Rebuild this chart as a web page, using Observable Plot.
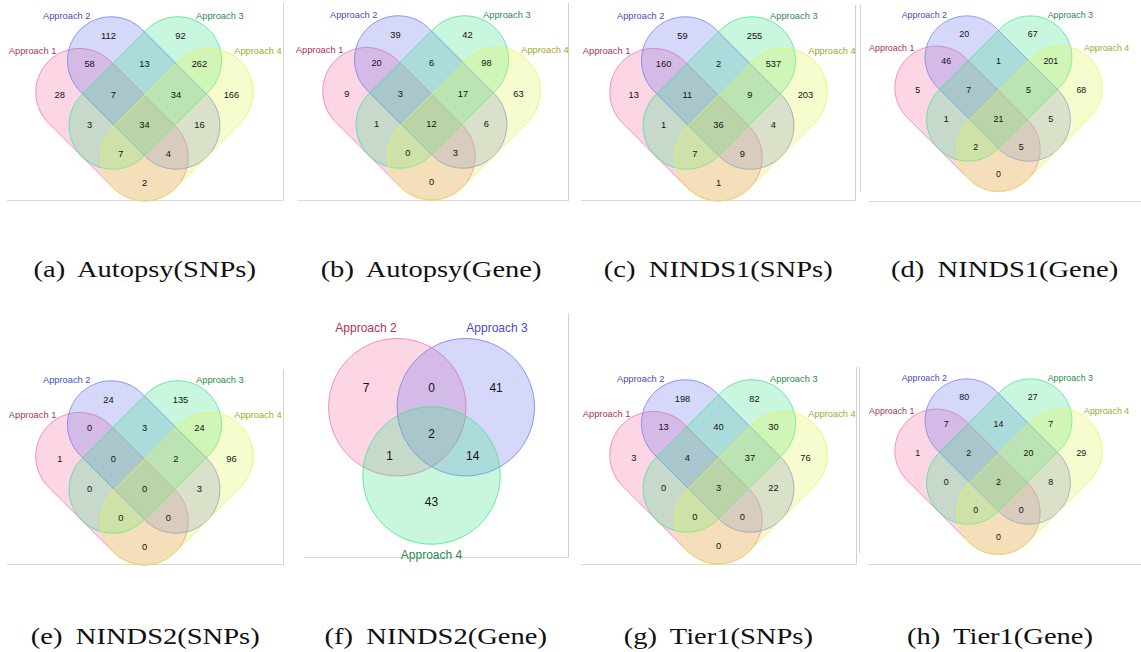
<!DOCTYPE html>
<html><head><meta charset="utf-8">
<script src="https://cdn.jsdelivr.net/npm/d3@7"></script>
<script src="https://cdn.jsdelivr.net/npm/@observablehq/plot@0.6"></script>
<style>
html,body{margin:0;padding:0;background:#fff;}
#fig{position:relative;width:1141px;height:652px;overflow:hidden;background:#fff;}
.panel{position:absolute;}
.cap{position:absolute;width:320px;text-align:center;font-family:"Liberation Serif","Times New Roman",serif;font-size:23px;line-height:23px;color:#111;white-space:nowrap;}
.cap span{display:inline-block;transform:scaleX(1.24);word-spacing:5px;}
.vl{position:absolute;width:1px;background:#d2d2d2;}
.hl{position:absolute;height:1px;background:#dadada;}
</style></head><body><div id="fig"></div>
<script>
// ---------------- DATA ----------------
const approaches4 = ["Approach 1", "Approach 2", "Approach 3", "Approach 4"];
// region keys (which approaches share the items)
const regions4 = ["1", "2", "3", "4", "12", "23", "34", "123", "234", "13", "1234", "24", "134", "124", "14"];
const captions = ["(a) Autopsy(SNPs)", "(b) Autopsy(Gene)", "(c) NINDS1(SNPs)", "(d) NINDS1(Gene)",
                  "(e) NINDS2(SNPs)", "(f) NINDS2(Gene)", "(g) Tier1(SNPs)", "(h) Tier1(Gene)"];
const autopsySNPs = [28, 112, 92, 166, 58, 13, 262, 7, 34, 3, 34, 16, 7, 4, 2];
const autopsyGene = [9, 39, 42, 63, 20, 6, 98, 3, 17, 1, 12, 6, 0, 3, 0];
const ninds1SNPs  = [13, 59, 255, 203, 160, 2, 537, 11, 9, 1, 36, 4, 7, 9, 1];
const ninds1Gene  = [5, 20, 67, 68, 46, 1, 201, 7, 5, 1, 21, 5, 2, 5, 0];
const ninds2SNPs  = [1, 24, 135, 96, 0, 3, 24, 0, 2, 0, 0, 3, 0, 0, 0];
const tier1SNPs   = [3, 198, 82, 76, 13, 40, 30, 4, 37, 0, 3, 22, 0, 0, 0];
const tier1Gene   = [1, 80, 27, 29, 7, 14, 7, 2, 20, 0, 2, 8, 0, 0, 0];
const approaches3 = ["Approach 2", "Approach 3", "Approach 4"];
const regions3 = ["2", "23", "3", "234", "24", "34", "4"];
const ninds2Gene  = [7, 0, 41, 2, 1, 14, 43];

// ---------------- LAYOUT / STYLE ----------------
const setFill4 = ["rgb(245,118,165)", "rgb(118,125,238)", "rgb(72,225,145)", "rgb(225,245,88)"];
const setText4 = ["#a8325e", "#4b4bc0", "#2b8a4e", "#a5a82a"];
const setFill3 = ["rgb(245,118,165)", "rgb(118,125,238)", "rgb(72,225,145)"];
const setText3 = ["#a8325e", "#4b4bc0", "#2b8a4e"];

// 4-set capsule geometry (diagram units = px)
const D = 31.7, S = 65, R = 43.7, G = 30.5;
const capsuleEnds = [
  [[-S, D - S], [0, D]],     // Approach 1
  [[D - S, -S], [D, 0]],     // Approach 2
  [[S - D, -S], [-D, 0]],    // Approach 3
  [[S, D - S], [0, D]]       // Approach 4
];
const anchor4 = {"1": [-2.78, -1], "2": [-1.18, -2.95], "3": [1.18, -2.95], "4": [2.85, -1],
  "12": [-1.8, -2], "23": [0, -2], "34": [1.8, -2], "123": [-1.02, -1], "234": [1.03, -1],
  "13": [-1.8, 0], "1234": [0, 0], "24": [1.8, 0], "134": [-0.78, 0.95], "124": [0.78, 0.95], "14": [0, 1.88]};
const setAnchor4 = [[-3.67, -2.44], [-2.55, -3.6], [2.47, -3.6], [3.72, -2.44]];

// 3-set circle geometry
const r3 = 68.7;
const circleCenters3 = [[-34.2, -23.3], [34.3, -23.3], [0, 45]];
const anchor3 = {"2": [-0.953, -0.62], "23": [0, -0.62], "3": [0.94, -0.62], "234": [0, 0.05],
  "24": [-0.61, 0.38], "34": [0.6, 0.38], "4": [0, 1.045]};
const setAnchor3 = [[-0.953, -1.495], [0.953, -1.495], [0, 1.82]];

function capsule(p0, p1, rad, n = 60) {
  const th = Math.atan2(p1[1] - p0[1], p1[0] - p0[0]);
  const pts = [];
  for (let k = 0; k <= n; k++) { const a = th - Math.PI / 2 + Math.PI * k / n; pts.push([p1[0] + rad * Math.cos(a), p1[1] + rad * Math.sin(a)]); }
  for (let k = 0; k <= n; k++) { const a = th + Math.PI / 2 + Math.PI * k / n; pts.push([p0[0] + rad * Math.cos(a), p0[1] + rad * Math.sin(a)]); }
  return pts;
}
function circle(c, rad, n = 120) {
  const pts = [];
  for (let k = 0; k < n; k++) { const a = 2 * Math.PI * k / n; pts.push([c[0] + rad * Math.cos(a), c[1] + rad * Math.sin(a)]); }
  return pts;
}

const fig = document.getElementById("fig");
const plotStyle = {fontFamily: "'Liberation Sans', Arial, sans-serif", fontSize: "9px", background: "transparent", overflow: "visible"};

function venn4(values, cx, cy) {
  const W = 300, H = 214, L = 150, T = 127;
  const marks = [];
  approaches4.forEach((name, i) => {
    const pts = capsule(capsuleEnds[i][0], capsuleEnds[i][1], R).map(([x, y]) => ({set: name, x, y}));
    marks.push(Plot.line(pts, {x: "x", y: "y", curve: "linear-closed", fill: setFill4[i], fillOpacity: 0.3,
      stroke: setFill4[i], strokeOpacity: 0.8, strokeWidth: 1}));
  });
  const counts = regions4.map((r, i) => ({x: anchor4[r][0] * G, y: anchor4[r][1] * G, v: String(values[i])}));
  marks.push(Plot.text(counts, {x: "x", y: "y", text: "v", fill: "#111", fontSize: 9.3}));
  const labs = approaches4.map((name, i) => ({x: setAnchor4[i][0] * G, y: setAnchor4[i][1] * G, name}));
  approaches4.forEach((name, i) => {
    marks.push(Plot.text([labs[i]], {x: "x", y: "y", text: "name", fill: setText4[i], fontSize: 9.3}));
  });
  const svg = Plot.plot({
    width: W, height: H, margin: 0, style: plotStyle,
    x: {domain: [-L, W - L], range: [0, W], axis: null},
    y: {domain: [-T, H - T], range: [0, H], axis: null},
    marks
  });
  const div = document.createElement("div");
  div.className = "panel";
  div.style.left = (cx - L) + "px"; div.style.top = (cy - T) + "px";
  div.appendChild(svg);
  fig.appendChild(div);
}

function venn3(values, ox, oy) {
  const W = 272, H = 252, L = 132, T = 120;
  const marks = [];
  approaches3.forEach((name, i) => {
    const pts = circle(circleCenters3[i], r3).map(([x, y]) => ({set: name, x, y}));
    marks.push(Plot.line(pts, {x: "x", y: "y", curve: "linear-closed", fill: setFill3[i], fillOpacity: 0.3,
      stroke: setFill3[i], strokeOpacity: 0.8, strokeWidth: 1}));
  });
  const counts = regions3.map((r, i) => ({x: anchor3[r][0] * r3, y: anchor3[r][1] * r3, v: String(values[i])}));
  marks.push(Plot.text(counts, {x: "x", y: "y", text: "v", fill: "#111", fontSize: 12}));
  approaches3.forEach((name, i) => {
    marks.push(Plot.text([{x: setAnchor3[i][0] * r3, y: setAnchor3[i][1] * r3, name}],
      {x: "x", y: "y", text: "name", fill: setText3[i], fontSize: 12}));
  });
  const svg = Plot.plot({
    width: W, height: H, margin: 0, style: plotStyle,
    x: {domain: [-L, W - L], range: [0, W], axis: null},
    y: {domain: [-T, H - T], range: [0, H], axis: null},
    marks
  });
  const div = document.createElement("div");
  div.className = "panel";
  div.style.left = (ox - L) + "px"; div.style.top = (oy - T) + "px";
  div.appendChild(svg);
  fig.appendChild(div);
}

function line(cls, x, y, len) {
  const el = document.createElement("div");
  el.className = cls;
  el.style.left = x + "px"; el.style.top = y + "px";
  if (cls === "vl") el.style.height = len + "px"; else el.style.width = len + "px";
  fig.appendChild(el);
}
// panel frames (image borders)
line("vl", 283, 3, 197); line("hl", 7, 200, 277);
line("vl", 568, 3, 197); line("hl", 297, 200, 272);
line("vl", 855, 5, 195); line("hl", 581, 200, 275);
line("vl", 860, 5, 187); line("hl", 868, 201, 273);
line("vl", 283, 369, 195); line("hl", 7, 564, 277);
line("vl", 568, 313, 245); line("hl", 305, 557, 264);
line("vl", 856, 367, 197); line("hl", 581, 564, 276);
line("vl", 859, 367, 186); line("hl", 868, 564, 273);

venn4(autopsySNPs, 144, 124.7);
venn4(autopsyGene, 430.7, 124.3);
venn4(ninds1SNPs, 717.7, 125);
venn4(ninds1Gene, 1005, 125);
venn4(ninds2SNPs, 144, 488.7);
venn3(ninds2Gene, 431.2, 430);
venn4(tier1SNPs, 717.7, 487.7);
venn4(tier1Gene, 1005, 488.3);

const capPos = [[145, 269], [431.5, 269], [718, 269], [1005, 269], [145, 636], [436, 636], [718, 636], [1000, 636]];
captions.forEach((c, i) => {
  const el = document.createElement("div");
  el.className = "cap";
  el.style.left = (capPos[i][0] - 160) + "px";
  el.style.top = (capPos[i][1] - 11.5) + "px";
  const sp = document.createElement("span");
  sp.textContent = c;
  el.appendChild(sp);
  fig.appendChild(el);
});
</script></body></html>
